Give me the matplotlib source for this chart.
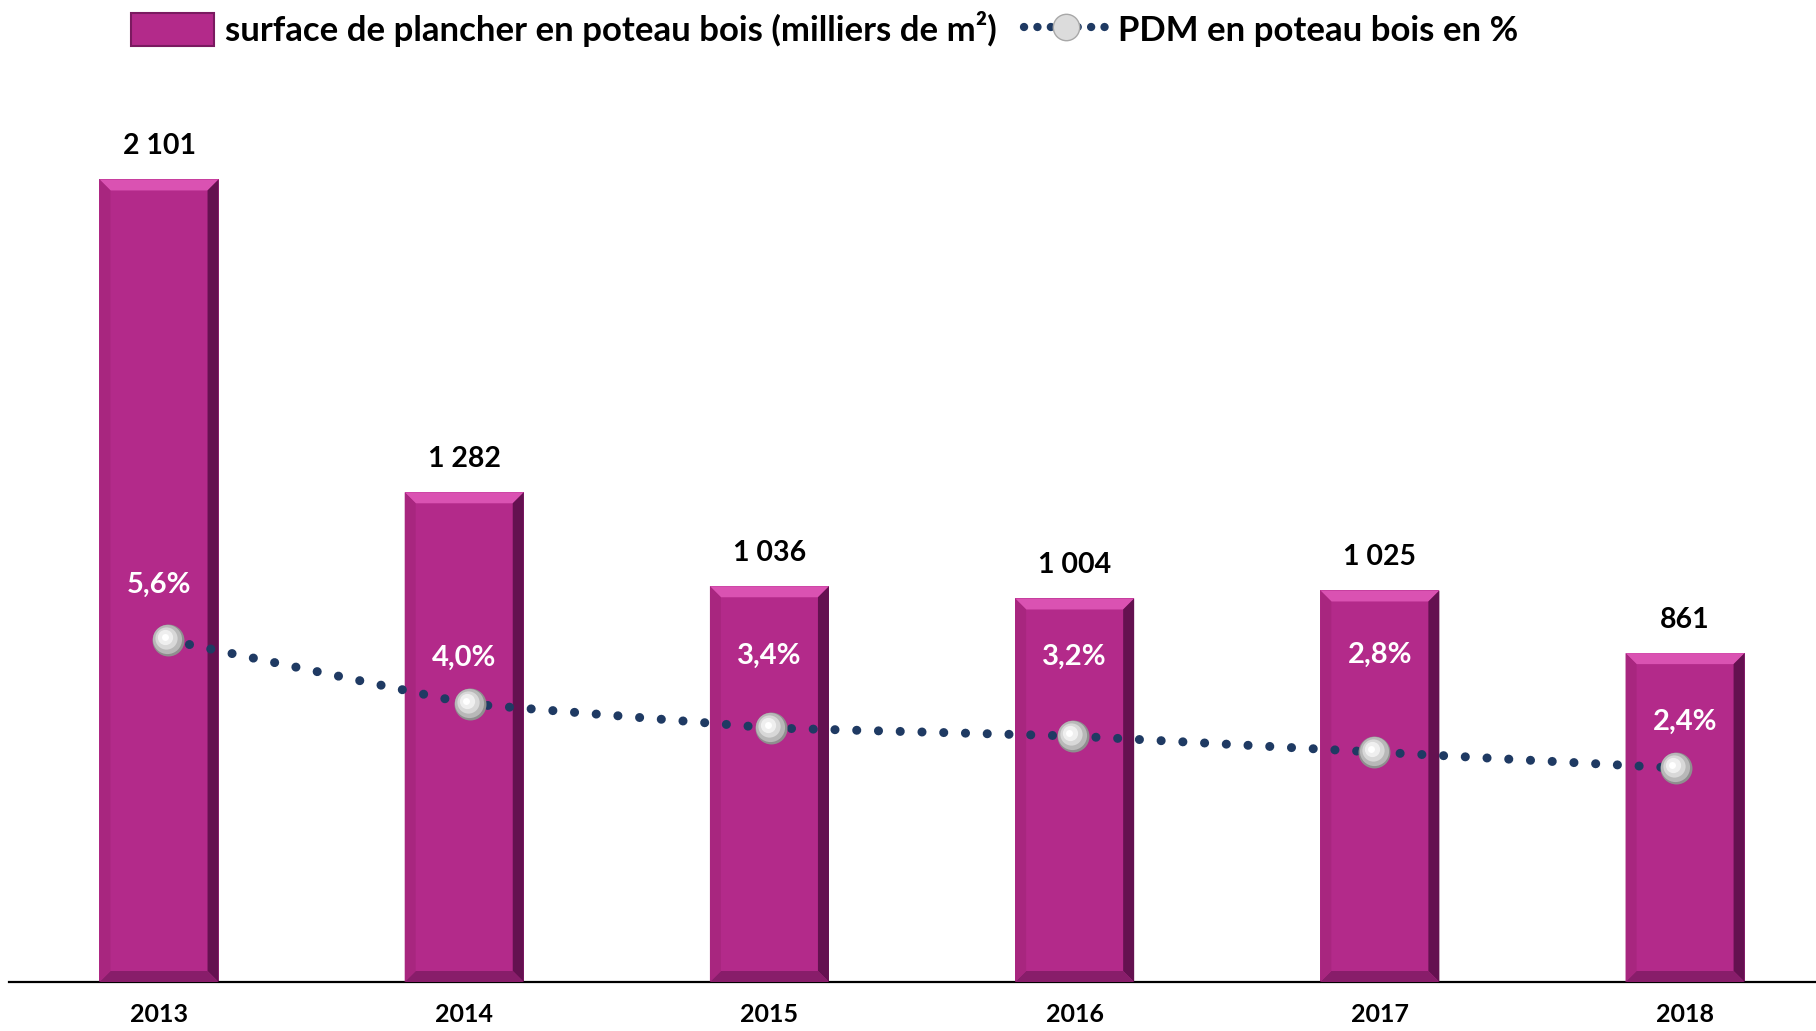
import numpy as np
import matplotlib
matplotlib.use("Agg")
import matplotlib.pyplot as plt
from matplotlib.patches import Polygon, Patch
from matplotlib.lines import Line2D
from matplotlib.transforms import offset_copy

plt.rcParams['font.family'] = ['Lato', 'DejaVu Sans']
plt.rcParams['font.weight'] = 'bold'

years = ['2013', '2014', '2015', '2016', '2017', '2018']
surface = [2101, 1282, 1036, 1004, 1025, 861]
pdm = [5.6, 4.0, 3.4, 3.2, 2.8, 2.4]
pdm_labels = ['5,6%', '4,0%', '3,4%', '3,2%', '2,8%', '2,4%']
# label offsets above the markers (points), as placed in the original
pdm_label_dy = [40, 33, 52, 57, 70, 33]

bar_col = '#B32A8A'
dot_col = '#1F3A63'

W, H = 1816, 1031
fig = plt.figure(figsize=(W / 100, H / 100), dpi=100)
ax = fig.add_axes([9 / W, 49 / H, 1 - 9 / W, 882 / H])
x = np.arange(len(years))
bw = 0.39
ax.set_xlim(-0.4915, 5.429)
ax.set_ylim(0, 2309)

bars = ax.bar(x, surface, width=bw, color=bar_col, edgecolor='none', zorder=2)

# bevel effect on the bars
px_x = (ax.get_xlim()[1] - ax.get_xlim()[0]) / (W - 9)
px_y = ax.get_ylim()[1] / 882
bx, by = 11 * px_x, 11 * px_y
for b in bars:
    x0 = b.get_x()
    x1 = x0 + b.get_width()
    y1 = b.get_height()
    faces = [
        ([(x0, y1), (x1, y1), (x1 - bx, y1 - by), (x0 + bx, y1 - by)], '#DA52B2'),
        ([(x1, y1), (x1, 0), (x1 - bx, by), (x1 - bx, y1 - by)], '#641150'),
        ([(x0, 0), (x1, 0), (x1 - bx, by), (x0 + bx, by)], '#881D6A'),
        ([(x0, 0), (x0, y1), (x0 + bx, y1 - by), (x0 + bx, by)], '#A8267F'),
    ]
    for pts, c in faces:
        ax.add_patch(Polygon(pts, closed=True, facecolor=c, edgecolor='none', zorder=3))

for xi, v in zip(x, surface):
    ax.annotate(f"{v:,}".replace(",", " "), (xi, v), xytext=(0, 24),
                textcoords='offset points', ha='center', va='center',
                fontsize=20.5, fontweight='bold', color='black')

for s in ['top', 'right', 'left']:
    ax.spines[s].set_visible(False)
ax.spines['bottom'].set_linewidth(1.6)
ax.spines['bottom'].set_color('black')
ax.set_yticks([])
ax.set_xticks(x)
ax.set_xticklabels(years, fontsize=18, fontweight='bold')
ax.tick_params(axis='x', length=0, pad=15)

ax2 = ax.twinx()
ax2.set_ylim(-2.95, 19.1)
ax2.set_yticks([])
for s in ax2.spines.values():
    s.set_visible(False)
# the line series sits slightly inside the bar centres in the original
xl = 0.03 + x * 0.988
ax2.plot(xl, pdm, color=dot_col, lw=6.5, ls=(0, (0.01, 2.4)),
         dash_capstyle='round', zorder=4)
sphere = [(23, '#8f8f8f', 0), (21, '#b8b8b8', 0.6), (16, '#d8d8d8', 1.3),
          (11, '#efefef', 2.0), (5, '#ffffff', 2.5)]
for ms, c, off in sphere:
    tr = offset_copy(ax2.transData, fig=fig, x=-off, y=off, units='points')
    ax2.plot(xl, pdm, ls='none', marker='o', ms=ms, mfc=c, mec='none',
             zorder=5, transform=tr)

for xi, v, lab, dy in zip(x, pdm, pdm_labels, pdm_label_dy):
    ax2.annotate(lab, (xi, v), xytext=(0, dy), textcoords='offset points',
                 ha='center', va='center', fontsize=21, fontweight='bold',
                 color='white', zorder=6)

handles = [
    Patch(facecolor=bar_col, edgecolor='#7A1A60', linewidth=1.5),
    Line2D([], [], color=dot_col, lw=6, ls=(0, (0.01, 1.6)), dash_capstyle='round',
           marker='o', ms=19, mfc='#dcdcdc', mec='#a8a8a8'),
]
fig.legend(handles, ['surface de plancher en poteau bois (milliers de m²)',
                     'PDM en poteau bois en %'],
           loc='center left', bbox_to_anchor=(131 / W, 1 - 29 / H), ncol=2,
           frameon=False, handlelength=2.4, handleheight=1.1,
           handletextpad=0.3, columnspacing=0.8, borderpad=0, borderaxespad=0,
           prop={'weight': 'bold', 'size': 25})

fig.savefig('out.png', dpi=100)
